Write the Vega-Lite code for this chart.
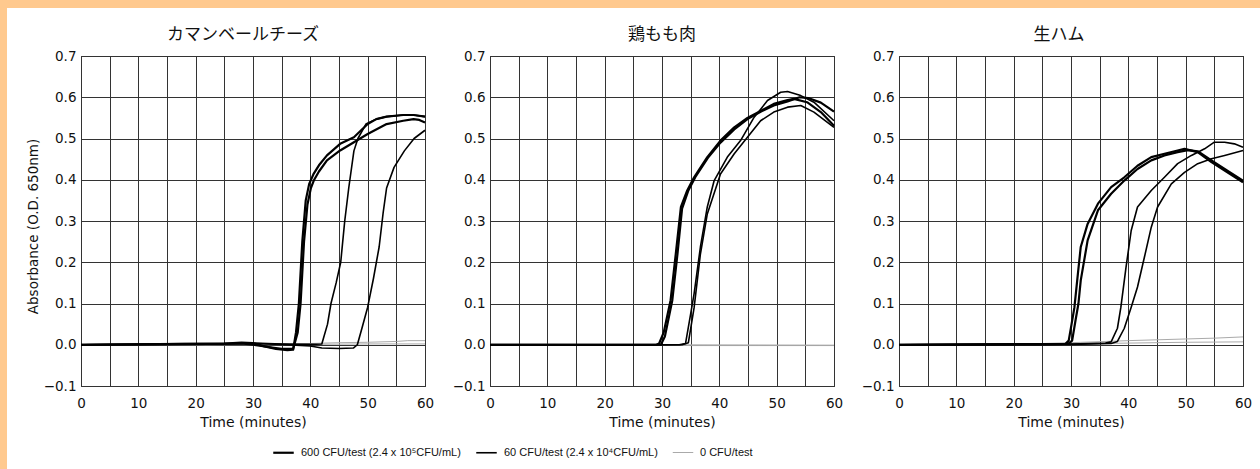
{
"$schema": "https://vega.github.io/schema/vega-lite/v6.json",
"padding": 0,
"background": "white",
"config": {
 "view": {"stroke": null},
 "font": "DejaVu Sans",
 "axis": {"grid": true, "gridColor": "#333333", "gridWidth": 1, "gridOpacity": 1, "domain": false, "ticks": false, "labelColor": "#111111", "labelFont": "DejaVu Sans", "labelFontSize": 13.5, "titleColor": "#111111", "titleFont": "DejaVu Sans", "titleFontWeight": "normal", "titleFontSize": 14},
 "title": {"font": "Noto Sans CJK JP", "fontSize": 17, "fontWeight": "normal", "color": "#111111", "offset": 5},
 "legend": {"labelFont": "Liberation Sans", "labelFontSize": 11, "labelColor": "#111111", "labelLimit": 400}
},
"data": {"values": [
{"p":1,"s":"0","r":"a","t":0,"v":0},{"p":1,"s":"0","r":"a","t":20,"v":0},{"p":1,"s":"0","r":"a","t":30,"v":0.001},{"p":1,"s":"0","r":"a","t":40,"v":0.003},{"p":1,"s":"0","r":"a","t":45,"v":0.005},{"p":1,"s":"0","r":"a","t":50,"v":0.006},{"p":1,"s":"0","r":"a","t":55,"v":0.008},{"p":1,"s":"0","r":"a","t":57,"v":0.01},{"p":1,"s":"0","r":"a","t":60,"v":0.01},
{"p":1,"s":"0","r":"b","t":0,"v":0},{"p":1,"s":"0","r":"b","t":30,"v":0},{"p":1,"s":"0","r":"b","t":40,"v":0.001},{"p":1,"s":"0","r":"b","t":50,"v":0.002},{"p":1,"s":"0","r":"b","t":60,"v":0.002},
{"p":2,"s":"0","r":"a","t":0,"v":0},{"p":2,"s":"0","r":"a","t":30,"v":0},{"p":2,"s":"0","r":"a","t":35,"v":-0.002},{"p":2,"s":"0","r":"a","t":45,"v":-0.002},{"p":2,"s":"0","r":"a","t":60,"v":-0.002},
{"p":2,"s":"0","r":"b","t":0,"v":0.001},{"p":2,"s":"0","r":"b","t":10,"v":0.001},{"p":2,"s":"0","r":"b","t":30,"v":0},{"p":2,"s":"0","r":"b","t":60,"v":-0.001},
{"p":3,"s":"0","r":"a","t":0,"v":0},{"p":3,"s":"0","r":"a","t":20,"v":0.001},{"p":3,"s":"0","r":"a","t":25,"v":0.003},{"p":3,"s":"0","r":"a","t":30,"v":0.005},{"p":3,"s":"0","r":"a","t":40,"v":0.01},{"p":3,"s":"0","r":"a","t":50,"v":0.014},{"p":3,"s":"0","r":"a","t":55,"v":0.016},{"p":3,"s":"0","r":"a","t":60,"v":0.019},
{"p":3,"s":"0","r":"b","t":0,"v":0},{"p":3,"s":"0","r":"b","t":25,"v":0.001},{"p":3,"s":"0","r":"b","t":30,"v":0.002},{"p":3,"s":"0","r":"b","t":40,"v":0.004},{"p":3,"s":"0","r":"b","t":50,"v":0.006},{"p":3,"s":"0","r":"b","t":60,"v":0.007},

{"p":1,"s":"60","r":"a","t":0,"v":0},{"p":1,"s":"60","r":"a","t":20,"v":0.001},{"p":1,"s":"60","r":"a","t":27,"v":0.003},{"p":1,"s":"60","r":"a","t":30,"v":0.004},{"p":1,"s":"60","r":"a","t":35,"v":0.002},{"p":1,"s":"60","r":"a","t":40,"v":0.001},{"p":1,"s":"60","r":"a","t":42,"v":0.002},{"p":1,"s":"60","r":"a","t":43,"v":0.05},{"p":1,"s":"60","r":"a","t":43.6,"v":0.1},{"p":1,"s":"60","r":"a","t":44.5,"v":0.15},{"p":1,"s":"60","r":"a","t":45.3,"v":0.2},{"p":1,"s":"60","r":"a","t":46,"v":0.3},{"p":1,"s":"60","r":"a","t":46.7,"v":0.38},{"p":1,"s":"60","r":"a","t":47.6,"v":0.47},{"p":1,"s":"60","r":"a","t":48.3,"v":0.5},{"p":1,"s":"60","r":"a","t":49.7,"v":0.535},{"p":1,"s":"60","r":"a","t":51.5,"v":0.547},{"p":1,"s":"60","r":"a","t":53.3,"v":0.553},{"p":1,"s":"60","r":"a","t":56.2,"v":0.557},{"p":1,"s":"60","r":"a","t":58,"v":0.557},{"p":1,"s":"60","r":"a","t":60,"v":0.553},
{"p":1,"s":"60","r":"b","t":0,"v":0},{"p":1,"s":"60","r":"b","t":25,"v":0.002},{"p":1,"s":"60","r":"b","t":30,"v":0.003},{"p":1,"s":"60","r":"b","t":35,"v":0.001},{"p":1,"s":"60","r":"b","t":40,"v":-0.003},{"p":1,"s":"60","r":"b","t":42,"v":-0.008},{"p":1,"s":"60","r":"b","t":45,"v":-0.009},{"p":1,"s":"60","r":"b","t":47.5,"v":-0.008},{"p":1,"s":"60","r":"b","t":48.2,"v":0},{"p":1,"s":"60","r":"b","t":49,"v":0.04},{"p":1,"s":"60","r":"b","t":50,"v":0.091},{"p":1,"s":"60","r":"b","t":51,"v":0.16},{"p":1,"s":"60","r":"b","t":52,"v":0.237},{"p":1,"s":"60","r":"b","t":52.7,"v":0.32},{"p":1,"s":"60","r":"b","t":53.3,"v":0.38},{"p":1,"s":"60","r":"b","t":54.6,"v":0.43},{"p":1,"s":"60","r":"b","t":56.4,"v":0.47},{"p":1,"s":"60","r":"b","t":58.1,"v":0.5},{"p":1,"s":"60","r":"b","t":60,"v":0.52},
{"p":2,"s":"60","r":"a","t":0,"v":0},{"p":2,"s":"60","r":"a","t":33,"v":0},{"p":2,"s":"60","r":"a","t":34.1,"v":0.003},{"p":2,"s":"60","r":"a","t":35,"v":0.075},{"p":2,"s":"60","r":"a","t":35.6,"v":0.124},{"p":2,"s":"60","r":"a","t":36.7,"v":0.237},{"p":2,"s":"60","r":"a","t":37.9,"v":0.334},{"p":2,"s":"60","r":"a","t":39.1,"v":0.398},{"p":2,"s":"60","r":"a","t":41.4,"v":0.455},{"p":2,"s":"60","r":"a","t":43.7,"v":0.495},{"p":2,"s":"60","r":"a","t":46,"v":0.55},{"p":2,"s":"60","r":"a","t":48.4,"v":0.592},{"p":2,"s":"60","r":"a","t":50.7,"v":0.612},{"p":2,"s":"60","r":"a","t":51.9,"v":0.614},{"p":2,"s":"60","r":"a","t":54.2,"v":0.604},{"p":2,"s":"60","r":"a","t":56.5,"v":0.588},{"p":2,"s":"60","r":"a","t":60,"v":0.543},
{"p":2,"s":"60","r":"b","t":0,"v":0},{"p":2,"s":"60","r":"b","t":33.5,"v":0},{"p":2,"s":"60","r":"b","t":34.6,"v":0.005},{"p":2,"s":"60","r":"b","t":35.6,"v":0.09},{"p":2,"s":"60","r":"b","t":36.7,"v":0.22},{"p":2,"s":"60","r":"b","t":37.9,"v":0.317},{"p":2,"s":"60","r":"b","t":40.2,"v":0.414},{"p":2,"s":"60","r":"b","t":42.6,"v":0.463},{"p":2,"s":"60","r":"b","t":44.9,"v":0.503},{"p":2,"s":"60","r":"b","t":47.2,"v":0.543},{"p":2,"s":"60","r":"b","t":49.5,"v":0.564},{"p":2,"s":"60","r":"b","t":51.9,"v":0.576},{"p":2,"s":"60","r":"b","t":54.2,"v":0.58},{"p":2,"s":"60","r":"b","t":56.5,"v":0.564},{"p":2,"s":"60","r":"b","t":60,"v":0.527},
{"p":3,"s":"60","r":"a","t":0,"v":0},{"p":3,"s":"60","r":"a","t":30,"v":0.002},{"p":3,"s":"60","r":"a","t":36,"v":0.004},{"p":3,"s":"60","r":"a","t":37,"v":0.007},{"p":3,"s":"60","r":"a","t":38.1,"v":0.04},{"p":3,"s":"60","r":"a","t":38.7,"v":0.091},{"p":3,"s":"60","r":"a","t":39.6,"v":0.188},{"p":3,"s":"60","r":"a","t":40.5,"v":0.277},{"p":3,"s":"60","r":"a","t":41.6,"v":0.334},{"p":3,"s":"60","r":"a","t":44,"v":0.374},{"p":3,"s":"60","r":"a","t":46.3,"v":0.406},{"p":3,"s":"60","r":"a","t":48.6,"v":0.439},{"p":3,"s":"60","r":"a","t":51,"v":0.459},{"p":3,"s":"60","r":"a","t":53.3,"v":0.475},{"p":3,"s":"60","r":"a","t":55,"v":0.491},{"p":3,"s":"60","r":"a","t":56.8,"v":0.491},{"p":3,"s":"60","r":"a","t":58.5,"v":0.487},{"p":3,"s":"60","r":"a","t":60,"v":0.479},
{"p":3,"s":"60","r":"b","t":0,"v":0},{"p":3,"s":"60","r":"b","t":30,"v":0.001},{"p":3,"s":"60","r":"b","t":37,"v":0.003},{"p":3,"s":"60","r":"b","t":38.1,"v":0.008},{"p":3,"s":"60","r":"b","t":39.3,"v":0.04},{"p":3,"s":"60","r":"b","t":40.5,"v":0.091},{"p":3,"s":"60","r":"b","t":41.6,"v":0.14},{"p":3,"s":"60","r":"b","t":42.8,"v":0.212},{"p":3,"s":"60","r":"b","t":44,"v":0.285},{"p":3,"s":"60","r":"b","t":45.1,"v":0.334},{"p":3,"s":"60","r":"b","t":47.5,"v":0.39},{"p":3,"s":"60","r":"b","t":49.8,"v":0.418},{"p":3,"s":"60","r":"b","t":52.1,"v":0.439},{"p":3,"s":"60","r":"b","t":54.5,"v":0.451},{"p":3,"s":"60","r":"b","t":56.8,"v":0.459},{"p":3,"s":"60","r":"b","t":60,"v":0.471},

{"p":1,"s":"600","r":"a","t":0,"v":0},{"p":1,"s":"600","r":"a","t":18,"v":0.002},{"p":1,"s":"600","r":"a","t":25,"v":0.003},{"p":1,"s":"600","r":"a","t":28,"v":0.005},{"p":1,"s":"600","r":"a","t":30,"v":0.004},{"p":1,"s":"600","r":"a","t":32,"v":-0.004},{"p":1,"s":"600","r":"a","t":34,"v":-0.01},{"p":1,"s":"600","r":"a","t":36,"v":-0.013},{"p":1,"s":"600","r":"a","t":37,"v":-0.012},{"p":1,"s":"600","r":"a","t":37.5,"v":0.03},{"p":1,"s":"600","r":"a","t":38,"v":0.1},{"p":1,"s":"600","r":"a","t":38.6,"v":0.25},{"p":1,"s":"600","r":"a","t":39.2,"v":0.35},{"p":1,"s":"600","r":"a","t":39.8,"v":0.39},{"p":1,"s":"600","r":"a","t":40.6,"v":0.415},{"p":1,"s":"600","r":"a","t":41.5,"v":0.435},{"p":1,"s":"600","r":"a","t":42.9,"v":0.459},{"p":1,"s":"600","r":"a","t":45.2,"v":0.487},{"p":1,"s":"600","r":"a","t":47.6,"v":0.503},{"p":1,"s":"600","r":"a","t":50,"v":0.535},{"p":1,"s":"600","r":"a","t":51.5,"v":0.547},{"p":1,"s":"600","r":"a","t":53.3,"v":0.553},{"p":1,"s":"600","r":"a","t":56.2,"v":0.557},{"p":1,"s":"600","r":"a","t":58,"v":0.557},{"p":1,"s":"600","r":"a","t":60,"v":0.553},
{"p":1,"s":"600","r":"b","t":0,"v":0},{"p":1,"s":"600","r":"b","t":20,"v":0.002},{"p":1,"s":"600","r":"b","t":28,"v":0.003},{"p":1,"s":"600","r":"b","t":30,"v":0},{"p":1,"s":"600","r":"b","t":33,"v":-0.006},{"p":1,"s":"600","r":"b","t":35,"v":-0.01},{"p":1,"s":"600","r":"b","t":37,"v":-0.01},{"p":1,"s":"600","r":"b","t":37.8,"v":0.03},{"p":1,"s":"600","r":"b","t":38.3,"v":0.1},{"p":1,"s":"600","r":"b","t":38.9,"v":0.25},{"p":1,"s":"600","r":"b","t":39.5,"v":0.34},{"p":1,"s":"600","r":"b","t":40.1,"v":0.38},{"p":1,"s":"600","r":"b","t":40.6,"v":0.398},{"p":1,"s":"600","r":"b","t":41.5,"v":0.42},{"p":1,"s":"600","r":"b","t":42.9,"v":0.447},{"p":1,"s":"600","r":"b","t":45.2,"v":0.471},{"p":1,"s":"600","r":"b","t":47.6,"v":0.491},{"p":1,"s":"600","r":"b","t":50,"v":0.511},{"p":1,"s":"600","r":"b","t":53.3,"v":0.535},{"p":1,"s":"600","r":"b","t":56.2,"v":0.543},{"p":1,"s":"600","r":"b","t":58,"v":0.547},{"p":1,"s":"600","r":"b","t":59,"v":0.545},{"p":1,"s":"600","r":"b","t":60,"v":0.539},
{"p":2,"s":"600","r":"a","t":0,"v":0},{"p":2,"s":"600","r":"a","t":29,"v":0},{"p":2,"s":"600","r":"a","t":29.5,"v":0.003},{"p":2,"s":"600","r":"a","t":30.3,"v":0.03},{"p":2,"s":"600","r":"a","t":31.5,"v":0.108},{"p":2,"s":"600","r":"a","t":32.4,"v":0.22},{"p":2,"s":"600","r":"a","t":33.3,"v":0.334},{"p":2,"s":"600","r":"a","t":34.4,"v":0.374},{"p":2,"s":"600","r":"a","t":35.6,"v":0.406},{"p":2,"s":"600","r":"a","t":37.9,"v":0.455},{"p":2,"s":"600","r":"a","t":40.2,"v":0.495},{"p":2,"s":"600","r":"a","t":42.6,"v":0.527},{"p":2,"s":"600","r":"a","t":44.9,"v":0.55},{"p":2,"s":"600","r":"a","t":47.2,"v":0.567},{"p":2,"s":"600","r":"a","t":49.5,"v":0.584},{"p":2,"s":"600","r":"a","t":51.9,"v":0.593},{"p":2,"s":"600","r":"a","t":53,"v":0.596},{"p":2,"s":"600","r":"a","t":55.3,"v":0.588},{"p":2,"s":"600","r":"a","t":57.7,"v":0.564},{"p":2,"s":"600","r":"a","t":60,"v":0.531},
{"p":2,"s":"600","r":"b","t":0,"v":0},{"p":2,"s":"600","r":"b","t":29.8,"v":0},{"p":2,"s":"600","r":"b","t":30.5,"v":0.02},{"p":2,"s":"600","r":"b","t":31.8,"v":0.108},{"p":2,"s":"600","r":"b","t":32.7,"v":0.22},{"p":2,"s":"600","r":"b","t":33.5,"v":0.33},{"p":2,"s":"600","r":"b","t":34.6,"v":0.374},{"p":2,"s":"600","r":"b","t":35.8,"v":0.406},{"p":2,"s":"600","r":"b","t":38,"v":0.453},{"p":2,"s":"600","r":"b","t":40.2,"v":0.49},{"p":2,"s":"600","r":"b","t":42.6,"v":0.522},{"p":2,"s":"600","r":"b","t":44.9,"v":0.547},{"p":2,"s":"600","r":"b","t":47.2,"v":0.565},{"p":2,"s":"600","r":"b","t":49.5,"v":0.58},{"p":2,"s":"600","r":"b","t":51.9,"v":0.59},{"p":2,"s":"600","r":"b","t":54,"v":0.6},{"p":2,"s":"600","r":"b","t":55.5,"v":0.598},{"p":2,"s":"600","r":"b","t":57.7,"v":0.587},{"p":2,"s":"600","r":"b","t":60,"v":0.565},
{"p":3,"s":"600","r":"a","t":0,"v":0},{"p":3,"s":"600","r":"a","t":25,"v":0.001},{"p":3,"s":"600","r":"a","t":29,"v":0.002},{"p":3,"s":"600","r":"a","t":29.6,"v":0.01},{"p":3,"s":"600","r":"a","t":30.1,"v":0.05},{"p":3,"s":"600","r":"a","t":30.6,"v":0.091},{"p":3,"s":"600","r":"a","t":31.2,"v":0.172},{"p":3,"s":"600","r":"a","t":31.7,"v":0.237},{"p":3,"s":"600","r":"a","t":32.9,"v":0.293},{"p":3,"s":"600","r":"a","t":34.7,"v":0.342},{"p":3,"s":"600","r":"a","t":37,"v":0.382},{"p":3,"s":"600","r":"a","t":39.3,"v":0.406},{"p":3,"s":"600","r":"a","t":41.6,"v":0.434},{"p":3,"s":"600","r":"a","t":44,"v":0.455},{"p":3,"s":"600","r":"a","t":46.3,"v":0.463},{"p":3,"s":"600","r":"a","t":48.6,"v":0.471},{"p":3,"s":"600","r":"a","t":49.8,"v":0.475},{"p":3,"s":"600","r":"a","t":52.1,"v":0.467},{"p":3,"s":"600","r":"a","t":54.5,"v":0.443},{"p":3,"s":"600","r":"a","t":56.8,"v":0.422},{"p":3,"s":"600","r":"a","t":60,"v":0.394},
{"p":3,"s":"600","r":"b","t":0,"v":0},{"p":3,"s":"600","r":"b","t":29.5,"v":0.002},{"p":3,"s":"600","r":"b","t":30.2,"v":0.01},{"p":3,"s":"600","r":"b","t":30.8,"v":0.06},{"p":3,"s":"600","r":"b","t":31.3,"v":0.1},{"p":3,"s":"600","r":"b","t":31.7,"v":0.156},{"p":3,"s":"600","r":"b","t":32.9,"v":0.253},{"p":3,"s":"600","r":"b","t":34.7,"v":0.326},{"p":3,"s":"600","r":"b","t":37,"v":0.366},{"p":3,"s":"600","r":"b","t":39.3,"v":0.398},{"p":3,"s":"600","r":"b","t":41.6,"v":0.426},{"p":3,"s":"600","r":"b","t":44,"v":0.447},{"p":3,"s":"600","r":"b","t":46.3,"v":0.459},{"p":3,"s":"600","r":"b","t":48.6,"v":0.467},{"p":3,"s":"600","r":"b","t":50.4,"v":0.472},{"p":3,"s":"600","r":"b","t":52.1,"v":0.469},{"p":3,"s":"600","r":"b","t":54.5,"v":0.447},{"p":3,"s":"600","r":"b","t":56.8,"v":0.426},{"p":3,"s":"600","r":"b","t":60,"v":0.398}
]},
"spacing": 0,
"vconcat": [
 {"width": 1260, "height": 8, "data": {"values": [{}]}, "view": {"stroke": null, "fill": "#FFC98E"}, "mark": {"type": "rect", "color": "#FFC98E"}, "encoding": {}},
 {"spacing": 0, "hconcat": [
  {"width": 7, "height": 461, "data": {"values": [{}]}, "view": {"stroke": null, "fill": "#FFC98E"}, "mark": {"type": "rect", "color": "#FFC98E"}, "encoding": {}},
  {"spacing": 16, "vconcat": [
   {"width": 1, "height": 1, "data": {"values": []}, "mark": {"type": "rect", "opacity": 0}, "encoding": {}},
   {"spacing": 16, "hconcat": [
    {"width": 344, "height": 330, "view": {"stroke": "#111111", "strokeWidth": 1},
     "title": {"text": "カマンベールチーズ", "dx": -10},
     "transform": [{"filter": "datum.p == 1"}],
     "mark": {"type": "line", "strokeJoin": "round"},
     "encoding": {
      "x": {"field": "t", "type": "quantitative", "scale": {"domain": [0, 60], "nice": false}, "axis": {"values": [0,5,10,15,20,25,30,35,40,45,50,55,60], "labelExpr": "datum.value % 10 == 0 ? datum.label : ''", "labelFlush": false, "title": "Time (minutes)", "labelPadding": 10, "titlePadding": 6}},
      "y": {"field": "v", "type": "quantitative", "scale": {"domain": [-0.1, 0.7], "nice": false, "zero": false}, "axis": {"values": [-0.1,0,0.1,0.2,0.3,0.4,0.5,0.6,0.7], "format": ".1f", "labelPadding": 5, "minExtent": 73, "maxExtent": 73, "title": "Absorbance (O.D. 650nm)", "titleFontSize": 13.5, "titleX": -48, "titleY": 170, "titleAngle": -90, "titleBaseline": "middle", "titleAlign": "center"}},
      "color": {"field": "s", "type": "nominal", "scale": {"domain": ["600","60","0"], "range": ["#000000","#000000","#aaaaaa"]}, "legend": {"title": null, "orient": "none", "legendX": 272, "legendY": 441, "direction": "horizontal", "symbolType": "stroke", "symbolSize": 420, "columnPadding": 12, "labelOffset": 6, "labelExpr": "datum.value == '600' ? '600 CFU/test (2.4 x 10⁵CFU/mL)' : datum.value == '60' ? '60 CFU/test (2.4 x 10⁴CFU/mL)' : '0 CFU/test'"}},
      "strokeWidth": {"field": "s", "type": "nominal", "scale": {"domain": ["600","60","0"], "range": [2.2, 1, 1]}, "legend": {"title": null, "orient": "none", "legendX": 272, "legendY": 441, "direction": "horizontal", "symbolType": "stroke", "symbolSize": 420, "columnPadding": 12, "labelOffset": 6, "labelExpr": "datum.value == '600' ? '600 CFU/test (2.4 x 10⁵CFU/mL)' : datum.value == '60' ? '60 CFU/test (2.4 x 10⁴CFU/mL)' : '0 CFU/test'"}},
      "detail": {"field": "r", "type": "nominal"}
     }},
    {"width": 344, "height": 330, "view": {"stroke": "#111111", "strokeWidth": 1},
     "title": "鶏もも肉",
     "transform": [{"filter": "datum.p == 2"}],
     "mark": {"type": "line", "strokeJoin": "round"},
     "encoding": {
      "x": {"field": "t", "type": "quantitative", "scale": {"domain": [0, 60], "nice": false}, "axis": {"values": [0,5,10,15,20,25,30,35,40,45,50,55,60], "labelExpr": "datum.value % 10 == 0 ? datum.label : ''", "labelFlush": false, "title": "Time (minutes)", "labelPadding": 10, "titlePadding": 6}},
      "y": {"field": "v", "type": "quantitative", "scale": {"domain": [-0.1, 0.7], "nice": false, "zero": false}, "axis": {"values": [-0.1,0,0.1,0.2,0.3,0.4,0.5,0.6,0.7], "format": ".1f", "labelPadding": 5, "minExtent": 30, "maxExtent": 30, "title": null}},
      "color": {"field": "s", "type": "nominal", "scale": {"domain": ["600","60","0"], "range": ["#000000","#000000","#aaaaaa"]}, "legend": {"title": null, "orient": "none", "legendX": 272, "legendY": 441, "direction": "horizontal", "symbolType": "stroke", "symbolSize": 420, "columnPadding": 12, "labelOffset": 6, "labelExpr": "datum.value == '600' ? '600 CFU/test (2.4 x 10⁵CFU/mL)' : datum.value == '60' ? '60 CFU/test (2.4 x 10⁴CFU/mL)' : '0 CFU/test'"}},
      "strokeWidth": {"field": "s", "type": "nominal", "scale": {"domain": ["600","60","0"], "range": [2.2, 1, 1]}, "legend": {"title": null, "orient": "none", "legendX": 272, "legendY": 441, "direction": "horizontal", "symbolType": "stroke", "symbolSize": 420, "columnPadding": 12, "labelOffset": 6, "labelExpr": "datum.value == '600' ? '600 CFU/test (2.4 x 10⁵CFU/mL)' : datum.value == '60' ? '60 CFU/test (2.4 x 10⁴CFU/mL)' : '0 CFU/test'"}},
      "detail": {"field": "r", "type": "nominal"}
     }},
    {"width": 344, "height": 330, "view": {"stroke": "#111111", "strokeWidth": 1},
     "title": {"text": "生ハム", "dx": -12},
     "transform": [{"filter": "datum.p == 3"}],
     "mark": {"type": "line", "strokeJoin": "round"},
     "encoding": {
      "x": {"field": "t", "type": "quantitative", "scale": {"domain": [0, 60], "nice": false}, "axis": {"values": [0,5,10,15,20,25,30,35,40,45,50,55,60], "labelExpr": "datum.value % 10 == 0 ? datum.label : ''", "labelFlush": false, "title": "Time (minutes)", "labelPadding": 10, "titlePadding": 6}},
      "y": {"field": "v", "type": "quantitative", "scale": {"domain": [-0.1, 0.7], "nice": false, "zero": false}, "axis": {"values": [-0.1,0,0.1,0.2,0.3,0.4,0.5,0.6,0.7], "format": ".1f", "labelPadding": 5, "minExtent": 30, "maxExtent": 30, "title": null}},
      "color": {"field": "s", "type": "nominal", "scale": {"domain": ["600","60","0"], "range": ["#000000","#000000","#aaaaaa"]}, "legend": {"title": null, "orient": "none", "legendX": 272, "legendY": 441, "direction": "horizontal", "symbolType": "stroke", "symbolSize": 420, "columnPadding": 12, "labelOffset": 6, "labelExpr": "datum.value == '600' ? '600 CFU/test (2.4 x 10⁵CFU/mL)' : datum.value == '60' ? '60 CFU/test (2.4 x 10⁴CFU/mL)' : '0 CFU/test'"}},
      "strokeWidth": {"field": "s", "type": "nominal", "scale": {"domain": ["600","60","0"], "range": [2.2, 1, 1]}, "legend": {"title": null, "orient": "none", "legendX": 272, "legendY": 441, "direction": "horizontal", "symbolType": "stroke", "symbolSize": 420, "columnPadding": 12, "labelOffset": 6, "labelExpr": "datum.value == '600' ? '600 CFU/test (2.4 x 10⁵CFU/mL)' : datum.value == '60' ? '60 CFU/test (2.4 x 10⁴CFU/mL)' : '0 CFU/test'"}},
      "detail": {"field": "r", "type": "nominal"}
     }}
   ]}
  ]}
 ]}
]
}
